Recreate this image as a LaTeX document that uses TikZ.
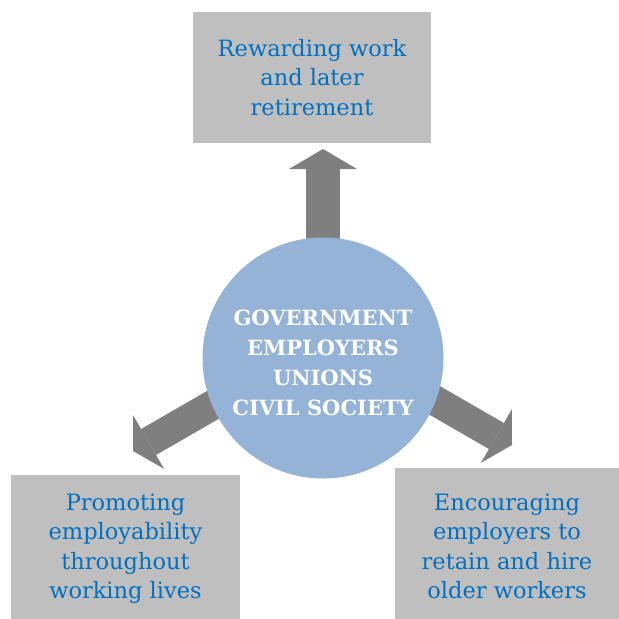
\documentclass[tikz,border=0pt]{standalone}
\usepackage{fontspec}
\setmainfont{DejaVu Serif}
\usepackage{xcolor}
\usetikzlibrary{positioning, arrows.meta}

\definecolor{boxgray}{HTML}{BFBFBF}
\definecolor{arrowgray}{HTML}{7F7F7F}
\definecolor{hubblue}{HTML}{95B3D7}
\definecolor{textblue}{HTML}{0070C0}

\begin{document}
\begin{tikzpicture}[x=1pt, y=-1pt,
    every node/.style={align=center, inner sep=0pt},
    goalbox/.style={rectangle, fill=boxgray, text=textblue, font=\fontsize{22.5}{29.5}\selectfont},
    hub/.style={circle, fill=hubblue, minimum size=241pt},
    hubtext/.style={text=white, font=\fontsize{21}{30}\selectfont\bfseries},
    push/.style={draw=arrowgray, line width=34pt, -{Triangle[width=68pt, length=20pt, line width=0pt]}},
    sidepush/.style={push, line width=30pt, -{Triangle[width=62pt, length=18pt, line width=0pt]}},
]
\useasboundingbox (0,0) rectangle (619,619);

% Arrow ends
\coordinate (c) at (323,358);
\coordinate (upTip) at (323,149);
\coordinate (leftTail) at (263,376);
\coordinate (leftTip) at (133,451);
\coordinate (rightTail) at (382,370);
\coordinate (rightTip) at (512,445);

% Arrows out of the centre
\draw[push] (c) -- (upTip);
\draw[sidepush] (leftTail) -- (leftTip);
\draw[sidepush] (rightTail) -- (rightTip);

% Centre
\node[hub] (hub) at (c) {};
\node[hubtext] (members) at ([yshift=-5pt]hub.center) {GOVERNMENT\\EMPLOYERS\\UNIONS\\CIVIL SOCIETY};

% Goals (the lower boxes run off the bottom edge)
\node[goalbox, minimum width=238pt, minimum height=131pt] (work) at (312,77.5)
  {Rewarding work\\and later\\retirement};
\node[goalbox, minimum width=229pt, minimum height=147pt] (employ) at (125.5,548.5)
  {Promoting\\employability\\throughout\\working lives};
\node[goalbox, minimum width=224pt, minimum height=157pt] (retain) at (507,546.5)
  {Encouraging\\employers to\\retain and hire\\older workers};
\end{tikzpicture}
\end{document}
